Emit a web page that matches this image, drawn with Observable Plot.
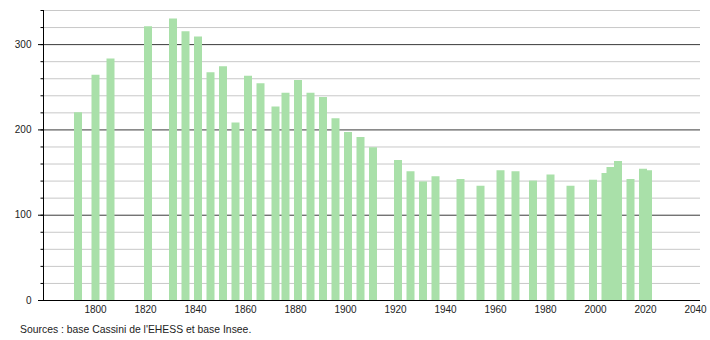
<!DOCTYPE html>
<html>
<head>
<meta charset="utf-8">
<script src="https://cdn.jsdelivr.net/npm/d3@7"></script>
<script src="https://cdn.jsdelivr.net/npm/@observablehq/plot@0.6"></script>
<style>
  body { margin: 0; background: #fff; font-family: "Liberation Sans", Arial, sans-serif; }
  #caption { font-size: 10.4px; color: #222; margin: 4px 0 0 20px; line-height: 12px; }
</style>
</head>
<body>
<div id="chart"></div>
<div id="caption">Sources : base Cassini de l'EHESS et base Insee.</div>
<script>
const years = [1793,1800,1806,1821,1831,1836,1841,1846,1851,1856,1861,1866,1872,1876,1881,1886,1891,1896,1901,1906,1911,1921,1926,1931,1936,1946,1954,1962,1968,1975,1982,1990,1999,2004,2006,2009,2014,2019,2021];
const population = [220,264,283,321,330,315,309,267,274,208,263,254,227,243,258,243,238,213,197,191,179,164,151,139,145,142,134,152,151,140,147,134,141,149,156,163,142,154,152];
const xTicks = [1800,1820,1840,1860,1880,1900,1920,1940,1960,1980,2000,2020,2040];
const yMajor = [0,100,200,300];
const yMinor = d3.range(0, 341, 20);

const data = years.map((y, i) => ({year: y, pop: population[i]}));

const chart = Plot.plot({
  width: 710,
  height: 320,
  marginLeft: 43,
  marginRight: 10,
  marginTop: 10,
  marginBottom: 20,
  style: {fontFamily: "'Liberation Sans', Arial, sans-serif", fontSize: "10px", color: "#222", background: "#fff"},
  x: {domain: [1779.2, 2042], ticks: xTicks},
  y: {domain: [0, 340]},
  marks: [
    Plot.ruleY(yMinor.filter(v => v % 100 !== 0), {stroke: "#c8c8c8", strokeWidth: 1}),
    Plot.ruleY(yMajor.filter(v => v > 0), {stroke: "#3a3a3a", strokeWidth: 1}),
    Plot.ruleX(data, {x: "year", y1: 0, y2: "pop", stroke: "#a9e0a9", strokeWidth: 8, strokeOpacity: 1}),
    Plot.axisY({ticks: yMinor, tickSize: 2.5, tickFormat: () => "", label: null, stroke: "#000"}),
    Plot.axisY({ticks: yMajor, tickSize: 5, tickPadding: 7, tickFormat: d => String(d), label: null, stroke: "#000"}),
    Plot.axisX({ticks: xTicks, tickSize: 0, tickPadding: 5, tickFormat: d => String(d), label: null}),
    Plot.ruleY([0], {stroke: "#000", strokeWidth: 1}),
    Plot.ruleX([1779.2], {y1: 0, y2: 340, stroke: "#000", strokeWidth: 1})
  ]
});
document.getElementById("chart").appendChild(chart);
</script>
</body>
</html>
